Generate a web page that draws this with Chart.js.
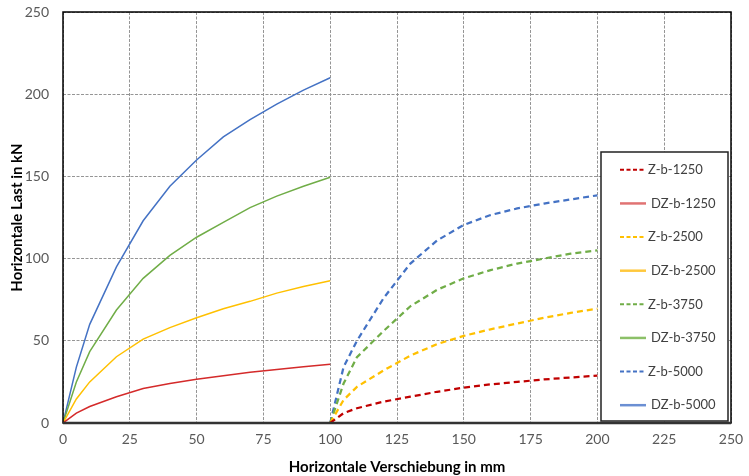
<!DOCTYPE html>
<html>
<head>
<meta charset="utf-8">
<script src="https://cdn.jsdelivr.net/npm/chart.js@4/dist/chart.umd.min.js"></script>
<style>
  html, body { margin: 0; padding: 0; background: #fff; }
  #wrap { width: 749px; height: 476px; position: relative; }
</style>
</head>
<body>
<div id="wrap"><canvas id="chart"></canvas></div>
<script>
// x positions of the measured points (mm); Z series are shifted by 100 mm
const xDZ = [0, 5, 10, 20, 30, 40, 50, 60, 70, 80, 90, 100];
const xZ = [100, 105, 110, 120, 130, 140, 150, 160, 170, 180, 190, 200];

const labels = ['Z-b-1250', 'DZ-b-1250', 'Z-b-2500', 'DZ-b-2500', 'Z-b-3750', 'DZ-b-3750', 'Z-b-5000', 'DZ-b-5000'];

const z1250 = [0, 6, 9, 13, 16, 19, 21.5, 23.5, 25, 26.5, 27.7, 28.8];
const dz1250 = [0, 6, 10, 16, 21, 24, 26.6, 28.8, 30.8, 32.6, 34.2, 35.8];
const z2500 = [0, 14, 22, 32, 41, 48, 53, 57, 60.5, 64, 67, 69.5];
const dz2500 = [0, 14.6, 25, 40.3, 51, 58, 64, 69.5, 74, 79, 83, 86.5];
const z3750 = [0, 24, 40, 56, 71, 81, 88, 93, 97, 100, 103, 105];
const dz3750 = [0, 25, 43.4, 68.7, 88, 102, 113, 122, 131, 138, 144, 149.5];
const z5000 = [0, 34, 50, 76, 97, 111, 120.5, 126.5, 130.5, 133.5, 136, 138.5];
const dz5000 = [0, 34, 60, 95, 123, 144, 160, 174, 184.5, 194, 202.5, 210];

const colors = ['#C00000', '#D42A2A', '#FFC000', '#FFC000', '#70AD47', '#70AD47', '#4472C4', '#4472C4'];
const legendColors = ['#C00000', '#E07373', '#FFC000', '#FFC83D', '#70AD47', '#8CC068', '#4472C4', '#6B8FD3'];

const xTicks = [0, 25, 50, 75, 100, 125, 150, 175, 200, 225, 250];
const yTicks = [0, 50, 100, 150, 200, 250];

const seriesValues = [z1250, dz1250, z2500, dz2500, z3750, dz3750, z5000, dz5000];

const toPoints = (xs, ys) => xs.map((x, i) => ({x: x, y: ys[i]}));

const datasets = seriesValues.map((vals, i) => {
  const dashed = labels[i].startsWith('Z');
  return {
    label: labels[i],
    data: toPoints(dashed ? xZ : xDZ, vals),
    borderColor: colors[i],
    backgroundColor: colors[i],
    borderWidth: dashed ? 2.25 : 1.5,
    borderDash: dashed ? [6, 4] : [],
    pointRadius: 0,
    tension: 0,
    fill: false
  };
});

// frame round the plot area
const framePlugin = {
  id: 'frame',
  afterDatasetsDraw(chart) {
    const {ctx, chartArea: a} = chart;
    ctx.save();
    ctx.strokeStyle = '#000';
    ctx.lineWidth = 1.5;
    ctx.strokeRect(a.left, a.top, a.right - a.left, a.bottom - a.top);
    ctx.strokeStyle = '#333';
    ctx.lineWidth = 2.5;
    ctx.beginPath();
    ctx.moveTo(a.left, a.bottom);
    ctx.lineTo(a.right, a.bottom);
    ctx.stroke();
    ctx.restore();
  }
};

// legend box inside the plot area, bottom right
const boxLegend = {
  id: 'boxLegend',
  afterDraw(chart) {
    const {ctx, chartArea: a} = chart;
    const x0 = a.right - 130, x1 = a.right - 3;
    const y0 = a.top + 140, y1 = a.bottom - 2;
    ctx.save();
    ctx.fillStyle = '#fff';
    ctx.fillRect(x0, y0, x1 - x0, y1 - y0);
    ctx.strokeStyle = '#222';
    ctx.lineWidth = 1.5;
    ctx.strokeRect(x0, y0, x1 - x0, y1 - y0);
    const step = (y1 - y0) / 8;
    ctx.font = '13px Lato, "Open Sans", sans-serif';
    ctx.textBaseline = 'middle';
    chart.data.datasets.forEach((ds, i) => {
      const y = y0 + step * (i + 0.5) + 1;
      ctx.strokeStyle = legendColors[i];
      ctx.lineWidth = ds.borderDash.length ? 2 : 2.5;
      ctx.setLineDash(ds.borderDash.length ? [4, 2.5] : []);
      ctx.beginPath();
      ctx.moveTo(x0 + 19, y);
      ctx.lineTo(x0 + 45, y);
      ctx.stroke();
      ctx.setLineDash([]);
      ctx.fillStyle = '#404040';
      ctx.fillText(ds.label, ds.borderDash.length ? x0 + 47 : x0 + 50, y);
    });
    ctx.restore();
  }
};

const gridStyle = {
  color: '#959595',
  lineWidth: 1,
  drawTicks: false
};

new Chart(document.getElementById('chart'), {
  type: 'line',
  data: {datasets: datasets},
  options: {
    responsive: true,
    maintainAspectRatio: false,
    animation: false,
    layout: {padding: {top: 12, right: 18, left: 0, bottom: 0}},
    plugins: {
      legend: {display: false},
      tooltip: {enabled: false}
    },
    scales: {
      x: {
        type: 'linear',
        min: 0,
        max: 250,
        afterBuildTicks: (scale) => { scale.ticks = xTicks.map(v => ({value: v})); },
        afterFit: (scale) => {
          scale.height = 53;
          scale.paddingLeft = 0;
          scale.paddingRight = 0;
        },
        grid: gridStyle,
        border: {display: false, dash: [3, 1.5]},
        ticks: {
          color: '#595959',
          padding: 8,
          font: {family: 'Lato, "Open Sans", sans-serif', size: 14}
        },
        title: {
          display: true,
          text: 'Horizontale Verschiebung in mm',
          color: '#000',
          padding: {top: 2, bottom: 0},
          font: {family: 'Lato, "Open Sans", sans-serif', size: 15, weight: 'bold'}
        }
      },
      y: {
        min: 0,
        max: 250,
        afterBuildTicks: (scale) => { scale.ticks = yTicks.map(v => ({value: v})); },
        afterFit: (scale) => {
          scale.width = 63;
          scale.paddingTop = 0;
          scale.paddingBottom = 0;
        },
        grid: gridStyle,
        border: {display: false, dash: [3, 1.5]},
        ticks: {
          color: '#595959',
          padding: 14,
          font: {family: 'Lato, "Open Sans", sans-serif', size: 14}
        },
        title: {
          display: true,
          text: 'Horizontale Last in kN',
          color: '#000',
          padding: {top: 8, bottom: 0},
          font: {family: 'Lato, "Open Sans", sans-serif', size: 15, weight: 'bold'}
        }
      }
    }
  },
  plugins: [framePlugin, boxLegend]
});
</script>
</body>
</html>
